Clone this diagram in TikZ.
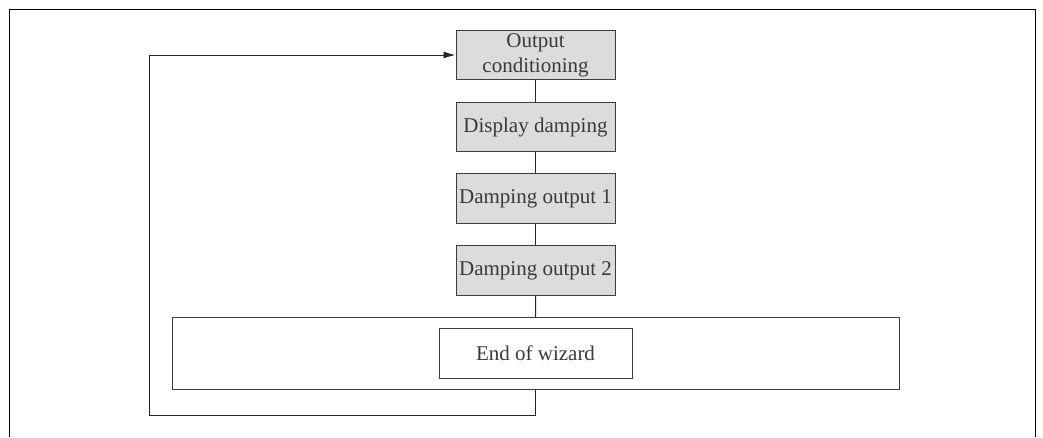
\documentclass[tikz,border=0pt]{standalone}
\usepackage{fontspec}
\setmainfont{Liberation Serif}
\usetikzlibrary{arrows.meta}
\definecolor{boxfill}{HTML}{DCDCDC}
\definecolor{boxline}{HTML}{3C3C3C}
\definecolor{txt}{HTML}{3A3A3A}
\tikzset{
  stepbox/.style={draw=boxline, line width=1pt, fill=boxfill, minimum width=159pt, minimum height=49.5pt, inner sep=0pt, align=center, text=txt, font=\fontsize{21}{25}\selectfont},
  wizbox/.style={draw=boxline, line width=1pt, fill=white, inner sep=0pt, align=center, text=txt, font=\fontsize{21}{25}\selectfont},
  conn/.style={draw=black!85, line width=0.9pt},
}
\begin{document}
\begin{tikzpicture}[x=1pt,y=1pt]
\useasboundingbox (0,0) rectangle (1043,437);
% outer frame (open at bottom)
\draw[black, line width=1.2pt] (9.7,0) -- (9.7,427.7) -- (1035.3,427.7) -- (1035.3,0);
% nodes
\node[stepbox] (oc) at (535.5,382) {Output\\conditioning};
\node[stepbox] (dd) at (535.5,310) {Display damping};
\node[stepbox] (d1) at (535.5,238.5) {Damping output 1};
\node[stepbox] (d2) at (535.5,166.3) {Damping output 2};
\node[wizbox, minimum width=726.5pt, minimum height=72pt] (big) at (535.75,83.5) {};
\node[wizbox, minimum width=193pt, minimum height=49.3pt] (end) at (535.5,83.4) {End of wizard};
\coordinate (lb) at (535.5,21.7);
\coordinate (ll) at (149.7,21.7);
% connectors
\draw[conn] (oc) -- (dd);
\draw[conn] (dd) -- (d1);
\draw[conn] (d1) -- (d2);
\draw[conn] (d2) -- (big);
\draw[conn, -{Latex[length=12pt,width=7pt]}] (big.south -| lb) -- (lb) -- (ll) |- (oc.west);
\end{tikzpicture}
\end{document}
